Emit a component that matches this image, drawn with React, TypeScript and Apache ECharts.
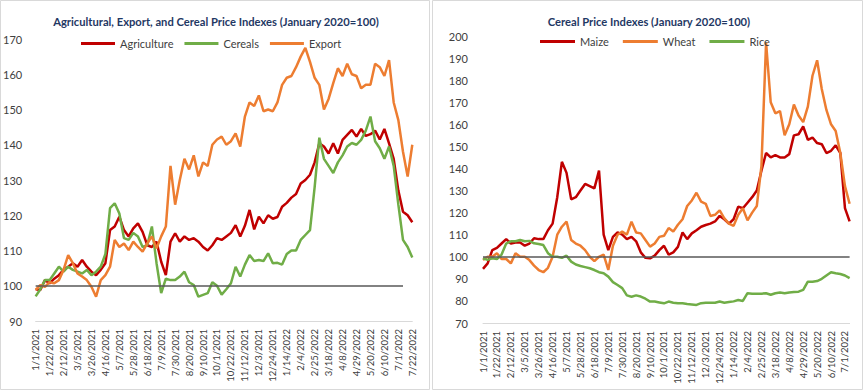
import React, { useEffect, useRef } from "react";
import * as echarts from "echarts";

function weeklyDates(count: number): string[] {
  const out: string[] = [];
  for (let i = 0; i < count; i++) {
    const d = new Date(Date.UTC(2021, 0, 1 + 7 * i));
    out.push(`${d.getUTCMonth() + 1}/${d.getUTCDate()}/${d.getUTCFullYear()}`);
  }
  return out;
}

const leftDates = weeklyDates(82);
const rightDates = weeklyDates(80);

const agriculture = [
  99, 98.8, 101.6, 100.7, 102, 103, 104.5, 105.4, 106.4, 105.4,
  107.3, 105.4, 104, 103, 104.5, 106.4, 115.8, 116.8, 119.6, 115.8,
  114, 116.3, 117.7, 115.3, 111.5, 111, 112.5, 106.8, 103, 112.5,
  114.9, 112.5, 114, 113, 113.5, 112.5, 111, 110, 111.5, 113.5,
  113, 114, 115, 117.2, 114, 117, 121.5, 116, 119.6, 117.7,
  120, 119, 119.5, 122.4, 123.5, 125, 126, 129, 130, 131.5,
  135, 140.4, 139.5, 137.5, 140.4, 137.5, 141.4, 142.8, 144.2, 142.3,
  144.5, 142.5, 143, 144, 141.5, 144.5, 140.4, 136, 127, 121,
  120, 118,
];
const cereals = [
  97, 99, 101.6, 101.6, 103.5, 105.4, 104, 105.4, 104.5, 104,
  103.5, 104.5, 103, 104, 105.4, 109, 122, 123.4, 120.5, 113.5,
  113, 115, 114, 111, 111.5, 116.8, 106.4, 97.9, 102, 101.6,
  101.6, 102.6, 104, 101, 100.2, 96.9, 97.4, 97.9, 101, 100,
  97.5, 99, 100.7, 105.4, 102.6, 106, 108.7, 107, 107.3, 107,
  109.2, 106.4, 106.5, 106, 109, 110, 110, 113, 114.4, 115.8,
  128, 142, 136, 134, 132, 135, 137, 139.5, 140.5, 140,
  141.4, 144, 148, 141, 139, 136, 139.5, 134, 123, 113,
  111, 108,
];
const exportIdx = [
  98.8, 100.2, 99.7, 101, 100.7, 101.6, 104.5, 108.7, 106.4, 103.5,
  102.6, 101.6, 99.7, 96.9, 101.6, 103, 105.4, 113, 111, 112,
  110.1, 112.5, 111, 109.7, 112, 114, 110.6, 114, 116.8, 134,
  123, 130, 136, 133, 137, 131, 135, 134, 140, 141.5,
  142.3, 140, 141, 143.2, 139.5, 148, 152, 151, 154, 149.5,
  150, 149.5, 152, 157, 159, 159.5, 162, 165, 167.5, 163.5,
  159, 157, 150, 153, 157.5, 161.7, 159.5, 163, 160, 159.5,
  156, 157, 157, 163, 162, 159.5, 164, 152, 147, 138,
  131, 140,
];

const maize = [
  94.5, 97, 103, 104, 106, 108, 106, 106.5, 106.5, 105,
  106, 108.4, 108, 108, 112, 115, 127, 143, 138, 126,
  127, 130, 133, 132, 131, 139, 110, 103, 109, 111,
  110, 108, 109, 107, 102, 99.5, 99.3, 100.5, 103, 105,
  101, 102, 104.5, 111, 108, 110.6, 112, 113.6, 114.4, 115,
  116, 118.5, 117, 115, 117, 122.7, 122, 124.5, 127, 130,
  139, 147, 145, 146, 145, 145, 146.5, 155, 155.5, 159,
  153, 154, 151.5, 151, 147, 148, 150.5, 147, 122, 116,
];
const wheat = [
  98.6, 100, 100, 101.6, 99, 99, 97, 101.6, 100, 100,
  98.5, 96, 94, 93, 95, 100, 110, 113.6, 115.9, 107.6,
  106, 105, 103, 100, 98, 100, 101, 94, 105, 110,
  111.4, 110, 115.9, 111, 110.6, 107.6, 104.6, 106, 109, 109.5,
  113, 111.4, 114.5, 117, 123, 125.5, 129, 125, 124, 118.5,
  119, 121, 117.4, 115, 114, 119, 122, 116.5, 120, 123,
  141, 197, 170, 165, 166, 155, 160, 169, 164, 161,
  168, 182, 189, 176, 166.5, 160, 157, 147, 132, 124,
];
const rice = [
  99.3, 98.6, 99.3, 99, 101, 106, 107, 107, 107.6, 107,
  107.2, 106.1, 105.8, 105.3, 101.6, 100, 100, 99.5, 100.5, 97.8,
  96.5, 95.8, 95.3, 94.8, 94, 93, 92.5, 91, 88.5, 87.2,
  85.8, 82.5, 81.9, 82.5, 82, 81, 79.7, 79.7, 79.3, 78.9,
  79.7, 79.2, 78.9, 78.9, 78.6, 78.4, 78.2, 79, 79.2, 79.2,
  79.2, 79.7, 79.2, 79.5, 79.8, 80.4, 80, 83.5, 83.3, 83.2,
  83.3, 83.5, 82.8, 83.5, 83.8, 83.5, 83.8, 84, 84.2, 85,
  88.7, 88.7, 89, 90, 91.5, 93, 92.5, 92.2, 91.5, 90.3,
];

const BASELINE = 100;
const leftBaselineEndIndex = 79;
const rightBaselineEndIndex = 79;

const RED = "#C00000";
const GREEN = "#70AD47";
const ORANGE = "#ED7D31";
const FONT = "Lato";
const LABEL_COLOR = "#404040";
const TITLE_COLOR = "#1F3864";

export default function App() {
  const ref = useRef<HTMLDivElement>(null);
  useEffect(() => {
    if (!ref.current) return;
    const chart = echarts.init(ref.current, undefined, { renderer: "svg" });

    const xAxisBase = (data: string[], gridIndex: number) => ({
      type: "category",
      gridIndex,
      data,
      boundaryGap: false,
      axisLine: { show: true, lineStyle: { color: "#D9D9D9", width: 1 } },
      axisTick: { show: false },
      splitLine: { show: false },
      axisLabel: {
        interval: 2,
        rotate: 90,
        fontSize: 9.5,
        color: LABEL_COLOR,
        fontFamily: FONT,
        margin: 8,
      },
    });

    const yAxisBase = (gridIndex: number, min: number, max: number, margin: number) => ({
      type: "value",
      gridIndex,
      min,
      max,
      interval: 10,
      axisLine: { show: false },
      axisTick: { show: false },
      splitLine: { show: false },
      axisLabel: { fontSize: 11, color: LABEL_COLOR, fontFamily: FONT, margin },
    });

    const lineSeries = (name: string, data: number[], color: string, axis: number) => ({
      name,
      type: "line",
      data,
      xAxisIndex: axis,
      yAxisIndex: axis,
      showSymbol: false,
      symbol: "none",
      lineStyle: { color, width: 2.5 },
      itemStyle: { color },
      emphasis: { disabled: true },
    });

    const baseline = (dates: string[], endIndex: number) => ({
      silent: true,
      symbol: "none",
      label: { show: false },
      lineStyle: { color: "#595959", width: 1.5, type: "solid" },
      data: [[{ coord: [dates[0], BASELINE] }, { coord: [dates[endIndex], BASELINE] }]],
    });

    const exportSeries: any = lineSeries("Export", exportIdx, ORANGE, 0);
    exportSeries.markLine = baseline(leftDates, leftBaselineEndIndex);
    const riceSeries: any = lineSeries("Rice", rice, GREEN, 1);
    riceSeries.markLine = baseline(rightDates, rightBaselineEndIndex);

    chart.setOption({
      animation: false,
      textStyle: { fontFamily: FONT },
      graphic: [
        { type: "rect", shape: { x: 0.5, y: 0.5, width: 429, height: 389 }, style: { fill: "none", stroke: "#D9D9D9", lineWidth: 1 } },
        { type: "rect", shape: { x: 432.5, y: 0.5, width: 430, height: 389 }, style: { fill: "none", stroke: "#D9D9D9", lineWidth: 1 } },
        {
          type: "text",
          x: 216,
          y: 21,
          style: {
            text: "Agricultural, Export, and Cereal Price Indexes (January 2020=100)",
            fill: TITLE_COLOR,
            font: `bold 11.2px ${FONT}`,
            align: "center",
            verticalAlign: "middle",
          },
        },
        {
          type: "text",
          x: 649,
          y: 21,
          style: {
            text: "Cereal Price Indexes (January 2020=100)",
            fill: TITLE_COLOR,
            font: `bold 11.2px ${FONT}`,
            align: "center",
            verticalAlign: "middle",
          },
        },
      ],
      legend: [
        {
          data: ["Agriculture", "Cereals", "Export"],
          left: 81,
          top: 38,
          padding: 0,
          itemGap: 11,
          itemWidth: 34,
          itemHeight: 3,
          icon: "rect",
          textStyle: { fontSize: 11, color: LABEL_COLOR, fontFamily: FONT },
        },
        {
          data: ["Maize", "Wheat", "Rice"],
          left: 540,
          top: 36,
          padding: 0,
          itemGap: 14,
          itemWidth: 35,
          itemHeight: 3,
          icon: "rect",
          textStyle: { fontSize: 11, color: LABEL_COLOR, fontFamily: FONT },
        },
      ],
      grid: [
        { left: 35, top: 39, width: 377.3, height: 282 },
        { left: 483, top: 36, width: 366.6, height: 287 },
      ],
      xAxis: [xAxisBase(leftDates, 0), xAxisBase(rightDates, 1)],
      yAxis: [yAxisBase(0, 90, 170, 13.5), yAxisBase(1, 70, 200, 15)],
      series: [
        lineSeries("Agriculture", agriculture, RED, 0),
        lineSeries("Cereals", cereals, GREEN, 0),
        exportSeries,
        lineSeries("Maize", maize, RED, 1),
        lineSeries("Wheat", wheat, ORANGE, 1),
        riceSeries,
      ],
    });
    return () => chart.dispose();
  }, []);

  return (
    <div
      ref={ref}
      style={{ position: "absolute", left: 0, top: 0, width: 863, height: 390, background: "#fff" }}
    />
  );
}
